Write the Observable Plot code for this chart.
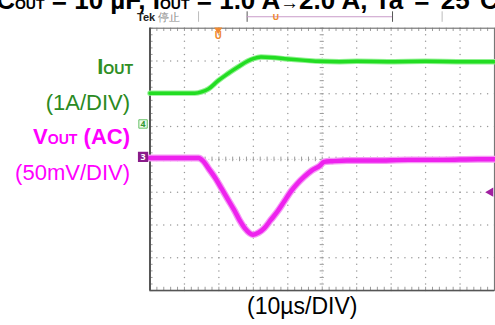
<!DOCTYPE html>
<html>
<head>
<meta charset="utf-8">
<script src="https://cdn.jsdelivr.net/npm/d3@7"></script>
<script src="https://cdn.jsdelivr.net/npm/@observablehq/plot@0.6"></script>
<style>
  html, body { margin: 0; padding: 0; background: #fff; }
  body { width: 495px; height: 325px; overflow: hidden; position: relative; font-family: Arial, "Liberation Sans", sans-serif; }
  .lbl { position: absolute; white-space: nowrap; }
  .sub { font-size: 0.64em; }
  .tsub { font-size: 14px; }
  #chart { position: absolute; left: 0; top: 0; }
</style>
</head>
<body>
<div id="chart"></div>
<div class="lbl" id="title" style="left:-3.8px; top:-13px; font-size:26px; line-height:26px; font-weight:bold; color:#000;">C<span class="tsub">OUT</span> = 10 µF, I<span class="tsub">OUT</span> = 1.0 A<span style="font-size:0.72em">→</span>2.0 A, <span style="word-spacing:4px">Ta = 25°C</span></div>
<div class="lbl" style="left:137px; top:12px; font-size:11px; line-height:11px; color:#222;"><b>Tek</b> <span style="color:#888;">停止</span></div>
<div class="lbl" style="right:362px; top:56.4px; font-size:22px; line-height:22px; font-weight:bold; color:#2f8f25;">I<span class="sub">OUT</span></div>
<div class="lbl" style="right:365px; top:92.4px; font-size:22px; line-height:22px; color:#2a8a22;">(1A/DIV)</div>
<div class="lbl" style="right:365px; top:126.4px; font-size:22px; line-height:22px; font-weight:bold; color:#ff00ff;">V<span class="sub">OUT</span> (AC)</div>
<div class="lbl" style="right:365px; top:162.4px; font-size:22px; line-height:22px; color:#ff00ff;">(50mV/DIV)</div>
<div class="lbl" style="left:247px; top:295px; font-size:23px; line-height:22px; color:#000;">(10µs/DIV)</div>
<script>
// ---- data ----
// time axis in µs from left edge of screen (10 µs/div, 10 divisions)
const iTime = [0, 5, 10, 13, 15, 17, 19.8, 22, 25.6, 28.4, 30, 32.2, 35, 40, 45, 49.4, 55, 60, 70, 80, 90, 100];
const iOutA = [1.0, 1.0, 1.0, 1.0, 1.04, 1.13, 1.38, 1.55, 1.80, 1.98, 2.05, 2.10, 2.09, 2.04, 2.0, 1.97, 1.96, 1.97, 1.96, 1.97, 1.96, 1.96];
const vTime = [0, 5, 10, 14.1, 15.5, 17, 19, 20.8, 22.7, 24.6, 26, 27.5, 29.9, 31.5, 33.2, 35, 37.1, 39, 40.9, 42.8, 44.7, 47, 49.4, 50.5, 53, 57.2, 65, 75, 85, 95, 100];
const vOutMV = [0, 0, 0, 0, -5, -16, -31, -47, -64, -81, -95, -107, -117, -114, -107, -95, -81, -66, -51, -39, -29, -19, -11.6, -6, -5, -4, -4, -3, -3, -2, -2];
// channel settings
const ch4Pos = 1.08;   // divisions above centre (ground marker of ch4)
const ch4Offset = -0.06; // trace vs marker
const ch4Scale = 1;    // A per div
const ch3Pos = 0.08;   // divisions (marker)
const ch3Scale = 50;   // mV per div
const trigTime = 19.8; // trigger marker position (µs)
const trigLevel = -1;  // ch3 trigger level marker (div)
const topBarTicks = [14.1, 28.2, 70.4, 84.8];
const topBarSpan = [28.2, 70.4];
const topBarMarker = 36.5;

// ---- derived tables ----
const iData = iTime.map((t, k) => ({t, y: iOutA[k] / ch4Scale + ch4Pos + ch4Offset}));
const vData = vTime.map((t, k) => ({t, y: vOutMV[k] / ch3Scale + ch3Pos - 0.035}));
const xMinor = d3.range(0, 100.001, 2);
const yMinor = d3.range(-4, 4.001, 0.2).map(v => +v.toFixed(2));
const gridDots = [];
for (const gx of [10, 20, 30, 40, 60, 70, 80, 90]) for (const gy of yMinor) gridDots.push({x: gx, y: gy});
for (const gy of [-3, -2, -1, 1, 2, 3]) for (const gx of xMinor) gridDots.push({x: gx, y: gy});

const grey = "#9a9a9a";
const chart = Plot.plot({
  width: 500, height: 325,
  marginLeft: 151, marginRight: 1, marginTop: 28, marginBottom: 32,
  x: {domain: [0, 100], axis: null},
  y: {domain: [-4, 4], axis: null},
  style: {background: "transparent", overflow: "visible"},
  marks: [
    Plot.dot(gridDots, {x: "x", y: "y", r: 0.75, fill: grey, stroke: null}),
    // centre lines with minor ticks
    Plot.ruleX([50], {stroke: "#bbb", strokeWidth: 0.8, strokeDasharray: "1,2.3"}),
    Plot.ruleY([0], {stroke: "#bbb", strokeWidth: 0.8, strokeDasharray: "1,2.5"}),
    Plot.ruleY(yMinor, {x1: 49.4, x2: 50.6, stroke: grey, strokeWidth: 1}),
    Plot.ruleX(xMinor, {y1: -0.07, y2: 0.07, stroke: grey, strokeWidth: 1}),
    // border ticks
    Plot.ruleX(xMinor, {y1: 4, y2: 3.9, stroke: grey}),
    Plot.ruleX(xMinor, {y1: -4, y2: -3.9, stroke: grey}),
    Plot.ruleY(yMinor, {x1: 0, x2: 0.9, stroke: grey}),
    Plot.frame({stroke: "#777", strokeWidth: 1.2}),
    Plot.ruleX([0], {stroke: "#555", strokeWidth: 2}),
    Plot.ruleY([-4], {stroke: "#555", strokeWidth: 1.5}),
    // traces
    Plot.line(iData, {x: "t", y: "y", curve: "monotone-x", stroke: "#8ff08f", strokeWidth: 5.5}),
    Plot.line(iData, {x: "t", y: "y", curve: "monotone-x", stroke: "#22dd22", strokeWidth: 3.5}),
    Plot.line(vData, {x: "t", y: "y", curve: "monotone-x", stroke: "#f59af5", strokeWidth: 7}),
    Plot.line(vData, {x: "t", y: "y", curve: "monotone-x", stroke: "#ee22ee", strokeWidth: 4.5}),
    // channel markers
    Plot.dot([ch4Pos], {x: () => 0, y: d => d, symbol: "square", r: 4.8, dx: -7, fill: "#eefaee", stroke: "#55bb55", strokeWidth: 0.9}),
    Plot.text([ch4Pos], {x: () => 0, y: d => d, text: () => "4", dx: -7, fontSize: 9, fill: "#339933", fontWeight: "bold"}),
    Plot.dot([ch3Pos], {x: () => 0, y: d => d, symbol: "square", r: 5, dx: -7, fill: "#8a1c8a", stroke: "#8a1c8a"}),
    Plot.text([ch3Pos], {x: () => 0, y: d => d, text: () => "3", dx: -7, fontSize: 9, fill: "#fff", fontWeight: "bold"}),
    Plot.dot([trigLevel], {x: () => 100, y: d => d, symbol: "triangle", rotate: -90, r: 3.5, dx: -4, fill: "#a020a0", stroke: null}),
    // trigger marker
    Plot.dot([trigTime], {x: d => d, y: () => 4, symbol: "triangle", rotate: 180, r: 3, dy: 1.5, fill: "#f08a30", stroke: null}),
    Plot.text([trigTime], {x: d => d, y: () => 4, text: () => "U", dy: 8, fontSize: 10, fontWeight: "bold", fill: "#f08a30"}),
    // top bar
    Plot.ruleX(topBarTicks, {y1: 4.18, y2: 4.5, stroke: (d, i) => (i === 1 || i === 2) ? "#555" : "#bbb", strokeWidth: 1}),
    Plot.ruleY([4.35], {x1: topBarSpan[0], x2: topBarSpan[1], stroke: "#c89ac8", strokeWidth: 1}),
    Plot.text([topBarMarker], {x: d => d, y: () => 4.35, text: () => "U", fontSize: 9, fontWeight: "bold", fill: "#f08a30"})
  ]
});
document.getElementById("chart").appendChild(chart);
</script>
</body>
</html>
